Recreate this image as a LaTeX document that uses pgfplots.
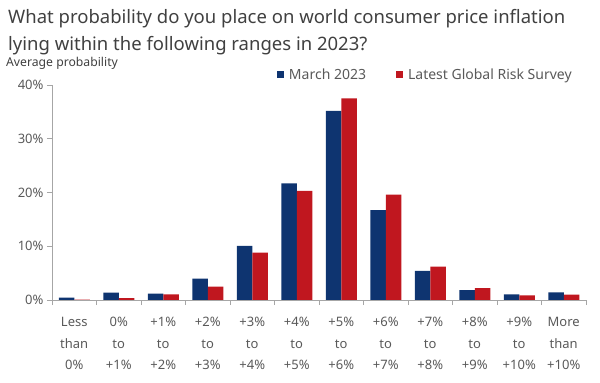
\documentclass[border=0pt]{standalone}
\usepackage{pgfplots}
\pgfplotsset{compat=1.18}
\usepackage{fontspec}
\setmainfont{Noto Sans}
\definecolor{navy}{HTML}{0E3470}
\definecolor{cred}{HTML}{C0171F}
\definecolor{axgrey}{HTML}{A6A6A6}
\definecolor{txtgrey}{HTML}{595959}
\definecolor{titlegrey}{HTML}{404040}
\begin{document}
\begin{tikzpicture}[x=1pt,y=1pt]
\path (0,0) rectangle (600,383);
\node[anchor=base west, inner sep=0pt, font=\fontsize{18.5}{22}\selectfont, text=titlegrey] at (8,359) {What probability do you place on world consumer price inflation};
\node[anchor=base west, inner sep=0pt, font=\fontsize{18.5}{22}\selectfont, text=titlegrey] at (8,332) {lying within the following ranges in 2023?};
\node[anchor=base west, inner sep=0pt, font=\fontsize{12.2}{14}\selectfont, text=titlegrey] at (6,316) {Average probability};
\begin{axis}[
  at={(52pt,83pt)}, anchor=south west,
  scale only axis, width=534pt, height=215pt,
  xmin=-0.5, xmax=11.5, ymin=0, ymax=40,
  ybar=0pt, bar width=15.5pt,
  axis x line*=bottom, axis y line*=left,
  axis line style={axgrey, line width=0.8pt},
  tick align=outside,
  major tick length=5pt, minor tick length=5pt,
  tick style={axgrey, line width=0.8pt},
  /pgf/number format/assume math mode=true,
  ytick={0,10,20,30,40},
  yticklabel={\pgfmathprintnumber{\tick}\%},
  yticklabel style={font=\fontsize{13}{14}\selectfont, text=txtgrey},
  xtick={0,...,11},
  major x tick style={draw=none},
  minor xtick={-0.5,0.5,...,11.5},
  xticklabels={{Less\\than\\0\%},{0\%\\to\\+1\%},{+1\%\\to\\+2\%},{+2\%\\to\\+3\%},{+3\%\\to\\+4\%},{+4\%\\to\\+5\%},{+5\%\\to\\+6\%},{+6\%\\to\\+7\%},{+7\%\\to\\+8\%},{+8\%\\to\\+9\%},{+9\%\\to\\+10\%},{More\\than\\+10\%}},
  xticklabel style={align=center, text=txtgrey, font=\fontsize{13}{21.5}\selectfont, yshift=-9pt},
  legend columns=2,
  legend style={draw=none, fill=none, at={(0.983,1.047)}, anchor=east, font=\fontsize{14}{16}\selectfont, text=txtgrey, /tikz/every odd column/.append style={column sep=3pt}, /tikz/every even column/.append style={column sep=28pt}},
]
\addplot[fill=navy, draw=none, legend image code/.code={\fill[navy] (0pt,-3.5pt) rectangle (7pt,3.5pt);}] coordinates {
(0,0.43) (1,1.36) (2,1.17) (3,4.0) (4,10.06) (5,21.7) (6,35.2) (7,16.7) (8,5.4) (9,1.85) (10,1.05) (11,1.42)};
\addplot[fill=cred, draw=none, legend image code/.code={\fill[cred] (0pt,-3.5pt) rectangle (7pt,3.5pt);}] coordinates {
(0,0.05) (1,0.37) (2,1.05) (3,2.47) (4,8.83) (5,20.3) (6,37.5) (7,19.6) (8,6.2) (9,2.2) (10,0.86) (11,0.99)};
\legend{March 2023, Latest Global Risk Survey}
\end{axis}
\end{tikzpicture}
\end{document}
